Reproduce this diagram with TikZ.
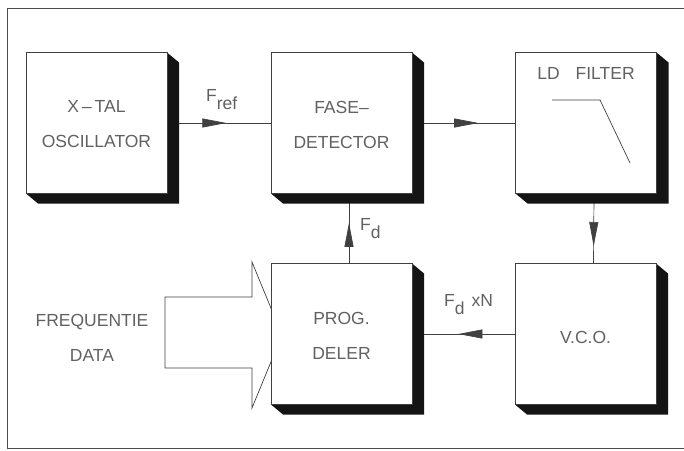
\documentclass[tikz,border=0pt]{standalone}
\usepackage{fontspec}
\setmainfont{Liberation Sans}
\usetikzlibrary{arrows.meta,decorations.markings}
\tikzset{
  blockbox/.style={draw=black!75, fill=white, line width=0.7pt, minimum width=141pt, minimum height=141pt, inner sep=0pt, outer sep=0pt},
  lbl/.style={text=black!62, font=\fontsize{17.5}{35}\selectfont, align=center, inner sep=0pt},
  conn/.style={draw=black!75, line width=0.7pt},
  headat/.style={postaction={decorate, decoration={markings, mark=at position #1 with {\arrow{Triangle[length=24pt,width=9pt]}}}}},
  shadowfill/.style={fill=black!92}
}
\newcommand{\blockshadow}[1]{%
  \fill[shadowfill] (#1.north east) -- ([shift={(12,10)}]#1.north east) -- ([shift={(12,10)}]#1.south east) -- ([shift={(12,10)}]#1.south west) -- (#1.south west) -- cycle;}
\begin{document}
\begin{tikzpicture}[x=1pt,y=-1pt]
\useasboundingbox (0,0) rectangle (684,450);
% frame
\coordinate (f1) at (684,8);
\coordinate (f2) at (7,8);
\coordinate (f3) at (7,448);
\coordinate (f4) at (684,448);
\draw[black!70, line width=0.8pt] (f1) -- (f2) -- (f3) -- (f4);

% block positions
\path (96.5,123) node[blockbox] (xtal) {}
      (341.5,123) node[blockbox] (fase) {}
      (586,123) node[blockbox] (filt) {}
      (341.5,334) node[blockbox] (prog) {}
      (585.5,334) node[blockbox] (vco) {};

% big input arrow (drawn behind PROG. DELER)
\coordinate (a1) at (165,297);
\coordinate (a2) at (252,297);
\coordinate (a3) at (252,262);
\coordinate (a4) at (282,335);
\coordinate (a5) at (252,408);
\coordinate (a6) at (252,368);
\coordinate (a7) at (165,368);
\draw[black!75, line width=0.7pt, fill=white] (a1) -- (a2) -- (a3) -- (a4) -- (a5) -- (a6) -- (a7) -- cycle;

% connectors
\draw[conn, headat=0.57] (xtal.east) -- (fase.west);
\draw[conn, headat=0.64] (fase.east) -- (filt.west);
\draw[conn, headat=0.75] ([xshift=8pt]filt.south) -- ([xshift=8pt]vco.north);
\draw[conn, headat=0.55] (vco.west) -- (prog.east);
\draw[conn, headat=0.58] ([xshift=7.5pt]prog.north) -- ([xshift=7.5pt]fase.south);

% shadows and blocks on top
\blockshadow{xtal}
\blockshadow{fase}
\blockshadow{filt}
\blockshadow{prog}
\blockshadow{vco}
\path (96.5,123) node[blockbox] (xtalb) {}
      (341.5,123) node[blockbox] (faseb) {}
      (586,123) node[blockbox] (filtb) {}
      (341.5,334) node[blockbox] (progb) {}
      (585.5,334) node[blockbox] (vcob) {};

% texts
\node[lbl] (t1) at (96.5,124.5) {X\,--\,TAL\\OSCILLATOR};
\node[lbl] (t2) at (341.5,125) {FASE--\\DETECTOR};
\node[lbl] (t3) at (586,73) {LD\hspace{16pt}FILTER};
\node[lbl] (t4) at (341.5,336) {PROG.\\DELER};
\node[lbl] (t5) at (585.5,337) {V.C.O.};
\node[lbl] (t6) at (92,338) {FREQUENTIE\\DATA};
\node[lbl, anchor=base west] (t7) at (206,101) {F\raisebox{-8pt}{ref}};
\node[lbl, anchor=base west] (t8) at (360,230) {F\raisebox{-8pt}{d}};
\node[lbl, anchor=base west] (t9) at (444,306) {F\raisebox{-8pt}{d}\hspace{7pt}xN};

% low-pass filter sketch
\coordinate (p1) at (552,100);
\coordinate (p2) at (600,100);
\coordinate (p3) at (630,163);
\draw[conn] (p1) -- (p2) -- (p3);
\end{tikzpicture}
\end{document}
